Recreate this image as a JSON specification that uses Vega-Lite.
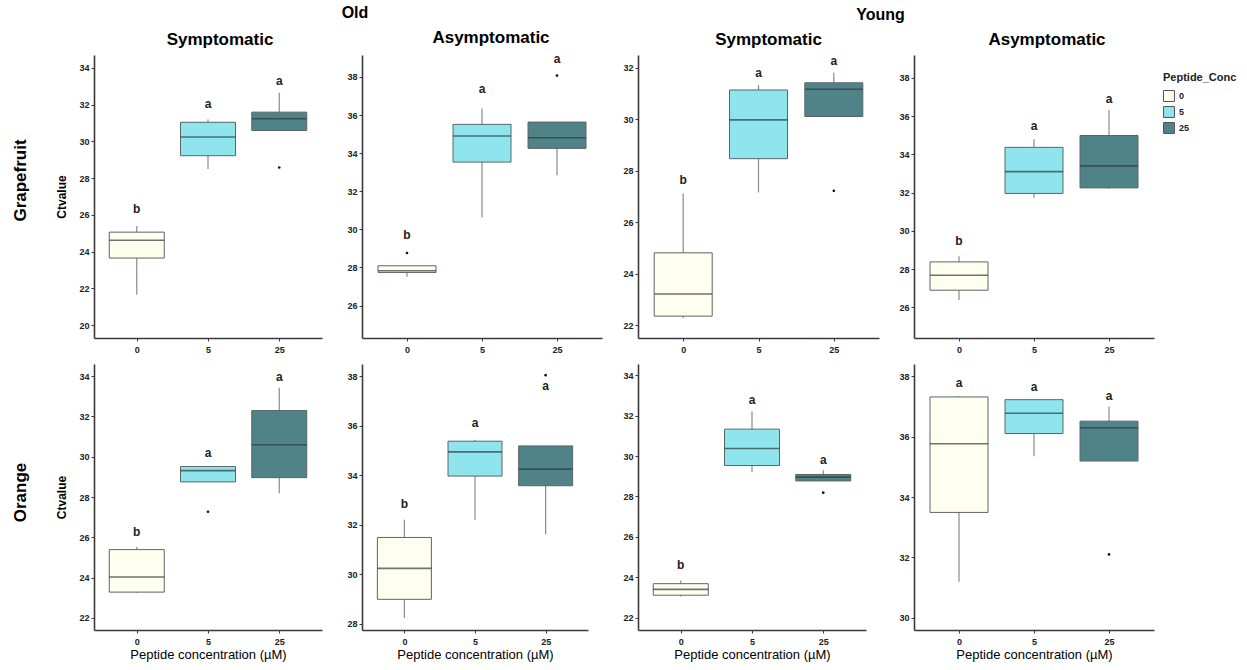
{
  "$schema": "https://vega.github.io/schema/vega-lite/v6.json",
  "padding": {"left": 11, "top": 4, "right": 5, "bottom": 5},
  "background": "white",
  "datasets": {
    "boxes": [
      {"fruit": "Grapefruit", "age": "Old", "sym": "Symptomatic", "conc": "0", "lower": 21.65, "q1": 23.65, "median": 24.62, "q3": 25.06, "upper": 25.39, "outlier": null, "letter": "b", "letter_y": 26.3},
      {"fruit": "Grapefruit", "age": "Old", "sym": "Symptomatic", "conc": "5", "lower": 28.49, "q1": 29.22, "median": 30.24, "q3": 31.04, "upper": 31.19, "outlier": null, "letter": "a", "letter_y": 32.05},
      {"fruit": "Grapefruit", "age": "Old", "sym": "Symptomatic", "conc": "25", "lower": 30.59, "q1": 30.59, "median": 31.23, "q3": 31.59, "upper": 32.65, "outlier": 28.58, "letter": "a", "letter_y": 33.3},
      {"fruit": "Grapefruit", "age": "Old", "sym": "Asymptomatic", "conc": "0", "lower": 27.52, "q1": 27.74, "median": 27.83, "q3": 28.09, "upper": 28.09, "outlier": 28.76, "letter": "b", "letter_y": 29.71},
      {"fruit": "Grapefruit", "age": "Old", "sym": "Asymptomatic", "conc": "5", "lower": 30.62, "q1": 33.53, "median": 34.9, "q3": 35.51, "upper": 36.34, "outlier": null, "letter": "a", "letter_y": 37.37},
      {"fruit": "Grapefruit", "age": "Old", "sym": "Asymptomatic", "conc": "25", "lower": 32.84, "q1": 34.25, "median": 34.81, "q3": 35.63, "upper": 35.63, "outlier": 38.07, "letter": "a", "letter_y": 38.96},
      {"fruit": "Grapefruit", "age": "Young", "sym": "Symptomatic", "conc": "0", "lower": 22.28, "q1": 22.35, "median": 23.21, "q3": 24.81, "upper": 27.12, "outlier": null, "letter": "b", "letter_y": 27.64},
      {"fruit": "Grapefruit", "age": "Young", "sym": "Symptomatic", "conc": "5", "lower": 27.16, "q1": 28.47, "median": 29.98, "q3": 31.14, "upper": 31.33, "outlier": null, "letter": "a", "letter_y": 31.81},
      {"fruit": "Grapefruit", "age": "Young", "sym": "Symptomatic", "conc": "25", "lower": 30.11, "q1": 30.11, "median": 31.17, "q3": 31.42, "upper": 31.81, "outlier": 27.22, "letter": "a", "letter_y": 32.26},
      {"fruit": "Grapefruit", "age": "Young", "sym": "Asymptomatic", "conc": "0", "lower": 26.39, "q1": 26.9, "median": 27.68, "q3": 28.38, "upper": 28.67, "outlier": null, "letter": "b", "letter_y": 29.49},
      {"fruit": "Grapefruit", "age": "Young", "sym": "Asymptomatic", "conc": "5", "lower": 31.74, "q1": 31.96, "median": 33.1, "q3": 34.37, "upper": 34.8, "outlier": null, "letter": "a", "letter_y": 35.5},
      {"fruit": "Grapefruit", "age": "Young", "sym": "Asymptomatic", "conc": "25", "lower": 32.2, "q1": 32.25, "median": 33.4, "q3": 34.99, "upper": 36.33, "outlier": null, "letter": "a", "letter_y": 36.89},
      {"fruit": "Orange", "age": "Old", "sym": "Symptomatic", "conc": "0", "lower": 23.25, "q1": 23.28, "median": 24.03, "q3": 25.39, "upper": 25.52, "outlier": null, "letter": "b", "letter_y": 26.27},
      {"fruit": "Orange", "age": "Old", "sym": "Symptomatic", "conc": "5", "lower": 28.75, "q1": 28.75, "median": 29.31, "q3": 29.51, "upper": 29.55, "outlier": 27.27, "letter": "a", "letter_y": 30.18},
      {"fruit": "Orange", "age": "Old", "sym": "Symptomatic", "conc": "25", "lower": 28.18, "q1": 28.96, "median": 30.59, "q3": 32.29, "upper": 33.42, "outlier": null, "letter": "a", "letter_y": 33.97},
      {"fruit": "Orange", "age": "Old", "sym": "Asymptomatic", "conc": "0", "lower": 28.23, "q1": 28.99, "median": 30.24, "q3": 31.49, "upper": 32.21, "outlier": null, "letter": "b", "letter_y": 32.83},
      {"fruit": "Orange", "age": "Old", "sym": "Asymptomatic", "conc": "5", "lower": 32.21, "q1": 33.97, "median": 34.95, "q3": 35.38, "upper": 35.44, "outlier": null, "letter": "a", "letter_y": 36.11},
      {"fruit": "Orange", "age": "Old", "sym": "Asymptomatic", "conc": "25", "lower": 31.61, "q1": 33.58, "median": 34.25, "q3": 35.19, "upper": 35.19, "outlier": 38.05, "letter": "a", "letter_y": 37.6},
      {"fruit": "Orange", "age": "Young", "sym": "Symptomatic", "conc": "0", "lower": 23.06, "q1": 23.12, "median": 23.41, "q3": 23.69, "upper": 23.85, "outlier": null, "letter": "b", "letter_y": 24.59},
      {"fruit": "Orange", "age": "Young", "sym": "Symptomatic", "conc": "5", "lower": 29.2, "q1": 29.53, "median": 30.37, "q3": 31.33, "upper": 32.2, "outlier": null, "letter": "a", "letter_y": 32.77},
      {"fruit": "Orange", "age": "Young", "sym": "Symptomatic", "conc": "25", "lower": 28.77, "q1": 28.77, "median": 28.96, "q3": 29.09, "upper": 29.3, "outlier": 28.19, "letter": "a", "letter_y": 29.78},
      {"fruit": "Orange", "age": "Young", "sym": "Asymptomatic", "conc": "0", "lower": 31.2, "q1": 33.49, "median": 35.76, "q3": 37.31, "upper": 37.33, "outlier": null, "letter": "a", "letter_y": 37.77},
      {"fruit": "Orange", "age": "Young", "sym": "Asymptomatic", "conc": "5", "lower": 35.35, "q1": 36.1, "median": 36.77, "q3": 37.22, "upper": 37.22, "outlier": null, "letter": "a", "letter_y": 37.65},
      {"fruit": "Orange", "age": "Young", "sym": "Asymptomatic", "conc": "25", "lower": 35.19, "q1": 35.19, "median": 36.29, "q3": 36.51, "upper": 36.99, "outlier": 32.1, "letter": "a", "letter_y": 37.33}
    ]
  },
  "config": {
    "font": "Liberation Sans",
    "view": {"stroke": null},
    "axis": {"grid": false, "domainColor": "#3a3a3a", "domainWidth": 1.6, "tickColor": "#3a3a3a", "tickSize": 3, "tickWidth": 1, "labelFont": "Liberation Sans", "labelFontWeight": "bold", "labelFontSize": 9, "labelColor": "#222", "labelPadding": 2, "titleFont": "Liberation Sans", "titleColor": "#000"},
    "axisX": {"labelAngle": 0, "titleFontSize": 13, "titleFontWeight": "normal", "titlePadding": 2, "labelPadding": 4},
    "axisY": {"titleFontSize": 12, "titleFontWeight": "bold", "titlePadding": 10},
    "title": {"fontSize": 17, "fontWeight": "bold", "color": "#000", "font": "Liberation Sans", "offset": 6},
    "legend": {"titleFont": "Liberation Sans", "titleFontSize": 11, "titleFontWeight": "bold", "titleColor": "#222", "labelFont": "Liberation Sans", "labelFontSize": 9, "labelFontWeight": "bold", "labelColor": "#222", "symbolType": "square", "symbolSize": 120, "symbolStrokeColor": "#555", "symbolStrokeWidth": 1, "rowPadding": 0, "titlePadding": 7}
  },
  "hconcat": [
    {
      "title": {"text": "Old", "fontSize": 16, "anchor": "middle", "offset": 8, "dx": 48},
      "spacing": 24,
      "hconcat": [
        {
          "spacing": 10,
          "vconcat": [
            {
              "title": {"text": "Grapefruit", "orient": "left", "anchor": "middle", "fontSize": 17, "offset": 26, "dx": 12},
              "vconcat": [
                {
                  "width": 228, "height": 283, "title": {"text": "Symptomatic", "dx": 12},
                  "data": {"name": "boxes"},
                  "transform": [{"filter": "datum.fruit === 'Grapefruit' && datum.age === 'Old' && datum.sym === 'Symptomatic'"}],
                  "encoding": {"x": {"field": "conc", "type": "nominal", "sort": ["0", "5", "25"], "scale": {"type": "point", "padding": 0.6, "domain": ["0", "5", "25"]}, "axis": {"title": null}}},
                  "layer": [
                    {"mark": {"type": "rule", "color": "#8a8a8a", "strokeWidth": 1.2}, "encoding": {"y": {"field": "lower", "type": "quantitative", "scale": {"domain": [19.3, 34.7], "nice": false, "zero": false}, "axis": {"values": [20, 22, 24, 26, 28, 30, 32, 34], "title": "Ctvalue"}}, "y2": {"field": "upper"}}},
                    {"mark": {"type": "bar", "width": 55, "stroke": "#5a6666", "strokeWidth": 1}, "encoding": {"y": {"field": "q1", "type": "quantitative", "scale": {"domain": [19.3, 34.7], "nice": false, "zero": false}}, "y2": {"field": "q3"}, "color": {"field": "conc", "type": "nominal", "title": "Peptide_Conc", "scale": {"domain": ["0", "5", "25"], "range": ["#FFFFF0", "#8EE5EE", "#4F8387"]}, "legend": {"orient": "none", "legendX": 1069, "legendY": 17}}}},
                    {"mark": {"type": "tick", "size": 55, "thickness": 1.6, "color": "#2e3a3a"}, "encoding": {"y": {"field": "median", "type": "quantitative", "scale": {"domain": [19.3, 34.7], "nice": false, "zero": false}}}},
                    {"mark": {"type": "point", "filled": true, "size": 7, "color": "#111", "opacity": 1}, "encoding": {"y": {"field": "outlier", "type": "quantitative", "scale": {"domain": [19.3, 34.7], "nice": false, "zero": false}}}},
                    {"mark": {"type": "text", "fontWeight": "bold", "fontSize": 12, "color": "#222", "baseline": "middle"}, "encoding": {"y": {"field": "letter_y", "type": "quantitative", "scale": {"domain": [19.3, 34.7], "nice": false, "zero": false}}, "text": {"field": "letter"}}}
                  ]
                }
              ]
            },
            {
              "title": {"text": "Orange", "orient": "left", "anchor": "middle", "fontSize": 17, "offset": 26, "dx": 20},
              "vconcat": [
                {
                  "width": 228, "height": 266,
                  "data": {"name": "boxes"},
                  "transform": [{"filter": "datum.fruit === 'Orange' && datum.age === 'Old' && datum.sym === 'Symptomatic'"}],
                  "encoding": {"x": {"field": "conc", "type": "nominal", "sort": ["0", "5", "25"], "scale": {"type": "point", "padding": 0.6, "domain": ["0", "5", "25"]}, "axis": {"title": "Peptide concentration (µM)"}}},
                  "layer": [
                    {"mark": {"type": "rule", "color": "#8a8a8a", "strokeWidth": 1.2}, "encoding": {"y": {"field": "lower", "type": "quantitative", "scale": {"domain": [21.4, 34.6], "nice": false, "zero": false}, "axis": {"values": [22, 24, 26, 28, 30, 32, 34], "title": "Ctvalue"}}, "y2": {"field": "upper"}}},
                    {"mark": {"type": "bar", "width": 55, "stroke": "#5a6666", "strokeWidth": 1}, "encoding": {"y": {"field": "q1", "type": "quantitative", "scale": {"domain": [21.4, 34.6], "nice": false, "zero": false}}, "y2": {"field": "q3"}, "color": {"field": "conc", "type": "nominal", "title": "Peptide_Conc", "scale": {"domain": ["0", "5", "25"], "range": ["#FFFFF0", "#8EE5EE", "#4F8387"]}}}},
                    {"mark": {"type": "tick", "size": 55, "thickness": 1.6, "color": "#2e3a3a"}, "encoding": {"y": {"field": "median", "type": "quantitative", "scale": {"domain": [21.4, 34.6], "nice": false, "zero": false}}}},
                    {"mark": {"type": "point", "filled": true, "size": 7, "color": "#111", "opacity": 1}, "encoding": {"y": {"field": "outlier", "type": "quantitative", "scale": {"domain": [21.4, 34.6], "nice": false, "zero": false}}}},
                    {"mark": {"type": "text", "fontWeight": "bold", "fontSize": 12, "color": "#222", "baseline": "middle"}, "encoding": {"y": {"field": "letter_y", "type": "quantitative", "scale": {"domain": [21.4, 34.6], "nice": false, "zero": false}}, "text": {"field": "letter"}}}
                  ]
                }
              ]
            }
          ]
        },
        {
          "spacing": 10,
          "vconcat": [
            {
              "width": 240, "height": 283, "title": {"text": "Asymptomatic", "dx": 9},
              "data": {"name": "boxes"},
              "transform": [{"filter": "datum.fruit === 'Grapefruit' && datum.age === 'Old' && datum.sym === 'Asymptomatic'"}],
              "encoding": {"x": {"field": "conc", "type": "nominal", "sort": ["0", "5", "25"], "scale": {"type": "point", "padding": 0.6, "domain": ["0", "5", "25"]}, "axis": {"title": null}}},
              "layer": [
                {"mark": {"type": "rule", "color": "#8a8a8a", "strokeWidth": 1.2}, "encoding": {"y": {"field": "lower", "type": "quantitative", "scale": {"domain": [24.3, 39.15], "nice": false, "zero": false}, "axis": {"values": [26, 28, 30, 32, 34, 36, 38], "title": null}}, "y2": {"field": "upper"}}},
                {"mark": {"type": "bar", "width": 58, "stroke": "#5a6666", "strokeWidth": 1}, "encoding": {"y": {"field": "q1", "type": "quantitative", "scale": {"domain": [24.3, 39.15], "nice": false, "zero": false}}, "y2": {"field": "q3"}, "color": {"field": "conc", "type": "nominal", "title": "Peptide_Conc", "scale": {"domain": ["0", "5", "25"], "range": ["#FFFFF0", "#8EE5EE", "#4F8387"]}}}},
                {"mark": {"type": "tick", "size": 58, "thickness": 1.6, "color": "#2e3a3a"}, "encoding": {"y": {"field": "median", "type": "quantitative", "scale": {"domain": [24.3, 39.15], "nice": false, "zero": false}}}},
                {"mark": {"type": "point", "filled": true, "size": 7, "color": "#111", "opacity": 1}, "encoding": {"y": {"field": "outlier", "type": "quantitative", "scale": {"domain": [24.3, 39.15], "nice": false, "zero": false}}}},
                {"mark": {"type": "text", "fontWeight": "bold", "fontSize": 12, "color": "#222", "baseline": "middle"}, "encoding": {"y": {"field": "letter_y", "type": "quantitative", "scale": {"domain": [24.3, 39.15], "nice": false, "zero": false}}, "text": {"field": "letter"}}}
              ]
            },
            {
              "width": 226, "height": 266,
              "data": {"name": "boxes"},
              "transform": [{"filter": "datum.fruit === 'Orange' && datum.age === 'Old' && datum.sym === 'Asymptomatic'"}],
              "encoding": {"x": {"field": "conc", "type": "nominal", "sort": ["0", "5", "25"], "scale": {"type": "point", "padding": 0.6, "domain": ["0", "5", "25"]}, "axis": {"title": "Peptide concentration (µM)"}}},
              "layer": [
                {"mark": {"type": "rule", "color": "#8a8a8a", "strokeWidth": 1.2}, "encoding": {"y": {"field": "lower", "type": "quantitative", "scale": {"domain": [27.75, 38.5], "nice": false, "zero": false}, "axis": {"values": [28, 30, 32, 34, 36, 38], "title": null}}, "y2": {"field": "upper"}}},
                {"mark": {"type": "bar", "width": 54, "stroke": "#5a6666", "strokeWidth": 1}, "encoding": {"y": {"field": "q1", "type": "quantitative", "scale": {"domain": [27.75, 38.5], "nice": false, "zero": false}}, "y2": {"field": "q3"}, "color": {"field": "conc", "type": "nominal", "title": "Peptide_Conc", "scale": {"domain": ["0", "5", "25"], "range": ["#FFFFF0", "#8EE5EE", "#4F8387"]}}}},
                {"mark": {"type": "tick", "size": 54, "thickness": 1.6, "color": "#2e3a3a"}, "encoding": {"y": {"field": "median", "type": "quantitative", "scale": {"domain": [27.75, 38.5], "nice": false, "zero": false}}}},
                {"mark": {"type": "point", "filled": true, "size": 7, "color": "#111", "opacity": 1}, "encoding": {"y": {"field": "outlier", "type": "quantitative", "scale": {"domain": [27.75, 38.5], "nice": false, "zero": false}}}},
                {"mark": {"type": "text", "fontWeight": "bold", "fontSize": 12, "color": "#222", "baseline": "middle"}, "encoding": {"y": {"field": "letter_y", "type": "quantitative", "scale": {"domain": [27.75, 38.5], "nice": false, "zero": false}}, "text": {"field": "letter"}}}
              ]
            }
          ]
        }
      ]
    },
    {
      "title": {"text": "Young", "fontSize": 16, "anchor": "middle", "offset": 8, "dx": -8},
      "spacing": 19,
      "hconcat": [
        {
          "spacing": 10,
          "vconcat": [
            {
              "width": 241, "height": 283, "title": {"text": "Symptomatic", "dx": 10},
              "data": {"name": "boxes"},
              "transform": [{"filter": "datum.fruit === 'Grapefruit' && datum.age === 'Young' && datum.sym === 'Symptomatic'"}],
              "encoding": {"x": {"field": "conc", "type": "nominal", "sort": ["0", "5", "25"], "scale": {"type": "point", "padding": 0.6, "domain": ["0", "5", "25"]}, "axis": {"title": null}}},
              "layer": [
                {"mark": {"type": "rule", "color": "#8a8a8a", "strokeWidth": 1.2}, "encoding": {"y": {"field": "lower", "type": "quantitative", "scale": {"domain": [21.5, 32.5], "nice": false, "zero": false}, "axis": {"values": [22, 24, 26, 28, 30, 32], "title": null}}, "y2": {"field": "upper"}}},
                {"mark": {"type": "bar", "width": 58, "stroke": "#5a6666", "strokeWidth": 1}, "encoding": {"y": {"field": "q1", "type": "quantitative", "scale": {"domain": [21.5, 32.5], "nice": false, "zero": false}}, "y2": {"field": "q3"}, "color": {"field": "conc", "type": "nominal", "title": "Peptide_Conc", "scale": {"domain": ["0", "5", "25"], "range": ["#FFFFF0", "#8EE5EE", "#4F8387"]}}}},
                {"mark": {"type": "tick", "size": 58, "thickness": 1.6, "color": "#2e3a3a"}, "encoding": {"y": {"field": "median", "type": "quantitative", "scale": {"domain": [21.5, 32.5], "nice": false, "zero": false}}}},
                {"mark": {"type": "point", "filled": true, "size": 7, "color": "#111", "opacity": 1}, "encoding": {"y": {"field": "outlier", "type": "quantitative", "scale": {"domain": [21.5, 32.5], "nice": false, "zero": false}}}},
                {"mark": {"type": "text", "fontWeight": "bold", "fontSize": 12, "color": "#222", "baseline": "middle"}, "encoding": {"y": {"field": "letter_y", "type": "quantitative", "scale": {"domain": [21.5, 32.5], "nice": false, "zero": false}}, "text": {"field": "letter"}}}
              ]
            },
            {
              "width": 228, "height": 266,
              "data": {"name": "boxes"},
              "transform": [{"filter": "datum.fruit === 'Orange' && datum.age === 'Young' && datum.sym === 'Symptomatic'"}],
              "encoding": {"x": {"field": "conc", "type": "nominal", "sort": ["0", "5", "25"], "scale": {"type": "point", "padding": 0.6, "domain": ["0", "5", "25"]}, "axis": {"title": "Peptide concentration (µM)"}}},
              "layer": [
                {"mark": {"type": "rule", "color": "#8a8a8a", "strokeWidth": 1.2}, "encoding": {"y": {"field": "lower", "type": "quantitative", "scale": {"domain": [21.4, 34.55], "nice": false, "zero": false}, "axis": {"values": [22, 24, 26, 28, 30, 32, 34], "title": null}}, "y2": {"field": "upper"}}},
                {"mark": {"type": "bar", "width": 55, "stroke": "#5a6666", "strokeWidth": 1}, "encoding": {"y": {"field": "q1", "type": "quantitative", "scale": {"domain": [21.4, 34.55], "nice": false, "zero": false}}, "y2": {"field": "q3"}, "color": {"field": "conc", "type": "nominal", "title": "Peptide_Conc", "scale": {"domain": ["0", "5", "25"], "range": ["#FFFFF0", "#8EE5EE", "#4F8387"]}}}},
                {"mark": {"type": "tick", "size": 55, "thickness": 1.6, "color": "#2e3a3a"}, "encoding": {"y": {"field": "median", "type": "quantitative", "scale": {"domain": [21.4, 34.55], "nice": false, "zero": false}}}},
                {"mark": {"type": "point", "filled": true, "size": 7, "color": "#111", "opacity": 1}, "encoding": {"y": {"field": "outlier", "type": "quantitative", "scale": {"domain": [21.4, 34.55], "nice": false, "zero": false}}}},
                {"mark": {"type": "text", "fontWeight": "bold", "fontSize": 12, "color": "#222", "baseline": "middle"}, "encoding": {"y": {"field": "letter_y", "type": "quantitative", "scale": {"domain": [21.4, 34.55], "nice": false, "zero": false}}, "text": {"field": "letter"}}}
              ]
            }
          ]
        },
        {
          "spacing": 10,
          "vconcat": [
            {
              "width": 240, "height": 283, "title": {"text": "Asymptomatic", "dx": 13},
              "data": {"name": "boxes"},
              "transform": [{"filter": "datum.fruit === 'Grapefruit' && datum.age === 'Young' && datum.sym === 'Asymptomatic'"}],
              "encoding": {"x": {"field": "conc", "type": "nominal", "sort": ["0", "5", "25"], "scale": {"type": "point", "padding": 0.6, "domain": ["0", "5", "25"]}, "axis": {"title": null}}},
              "layer": [
                {"mark": {"type": "rule", "color": "#8a8a8a", "strokeWidth": 1.2}, "encoding": {"y": {"field": "lower", "type": "quantitative", "scale": {"domain": [24.4, 39.2], "nice": false, "zero": false}, "axis": {"values": [26, 28, 30, 32, 34, 36, 38], "title": null}}, "y2": {"field": "upper"}}},
                {"mark": {"type": "bar", "width": 58, "stroke": "#5a6666", "strokeWidth": 1}, "encoding": {"y": {"field": "q1", "type": "quantitative", "scale": {"domain": [24.4, 39.2], "nice": false, "zero": false}}, "y2": {"field": "q3"}, "color": {"field": "conc", "type": "nominal", "title": "Peptide_Conc", "scale": {"domain": ["0", "5", "25"], "range": ["#FFFFF0", "#8EE5EE", "#4F8387"]}}}},
                {"mark": {"type": "tick", "size": 58, "thickness": 1.6, "color": "#2e3a3a"}, "encoding": {"y": {"field": "median", "type": "quantitative", "scale": {"domain": [24.4, 39.2], "nice": false, "zero": false}}}},
                {"mark": {"type": "point", "filled": true, "size": 7, "color": "#111", "opacity": 1}, "encoding": {"y": {"field": "outlier", "type": "quantitative", "scale": {"domain": [24.4, 39.2], "nice": false, "zero": false}}}},
                {"mark": {"type": "text", "fontWeight": "bold", "fontSize": 12, "color": "#222", "baseline": "middle"}, "encoding": {"y": {"field": "letter_y", "type": "quantitative", "scale": {"domain": [24.4, 39.2], "nice": false, "zero": false}}, "text": {"field": "letter"}}}
              ]
            },
            {
              "width": 240, "height": 266,
              "data": {"name": "boxes"},
              "transform": [{"filter": "datum.fruit === 'Orange' && datum.age === 'Young' && datum.sym === 'Asymptomatic'"}],
              "encoding": {"x": {"field": "conc", "type": "nominal", "sort": ["0", "5", "25"], "scale": {"type": "point", "padding": 0.6, "domain": ["0", "5", "25"]}, "axis": {"title": "Peptide concentration (µM)"}}},
              "layer": [
                {"mark": {"type": "rule", "color": "#8a8a8a", "strokeWidth": 1.2}, "encoding": {"y": {"field": "lower", "type": "quantitative", "scale": {"domain": [29.6, 38.4], "nice": false, "zero": false}, "axis": {"values": [30, 32, 34, 36, 38], "title": null}}, "y2": {"field": "upper"}}},
                {"mark": {"type": "bar", "width": 58, "stroke": "#5a6666", "strokeWidth": 1}, "encoding": {"y": {"field": "q1", "type": "quantitative", "scale": {"domain": [29.6, 38.4], "nice": false, "zero": false}}, "y2": {"field": "q3"}, "color": {"field": "conc", "type": "nominal", "title": "Peptide_Conc", "scale": {"domain": ["0", "5", "25"], "range": ["#FFFFF0", "#8EE5EE", "#4F8387"]}}}},
                {"mark": {"type": "tick", "size": 58, "thickness": 1.6, "color": "#2e3a3a"}, "encoding": {"y": {"field": "median", "type": "quantitative", "scale": {"domain": [29.6, 38.4], "nice": false, "zero": false}}}},
                {"mark": {"type": "point", "filled": true, "size": 7, "color": "#111", "opacity": 1}, "encoding": {"y": {"field": "outlier", "type": "quantitative", "scale": {"domain": [29.6, 38.4], "nice": false, "zero": false}}}},
                {"mark": {"type": "text", "fontWeight": "bold", "fontSize": 12, "color": "#222", "baseline": "middle"}, "encoding": {"y": {"field": "letter_y", "type": "quantitative", "scale": {"domain": [29.6, 38.4], "nice": false, "zero": false}}, "text": {"field": "letter"}}}
              ]
            }
          ]
        }
      ]
    }
  ]
}
